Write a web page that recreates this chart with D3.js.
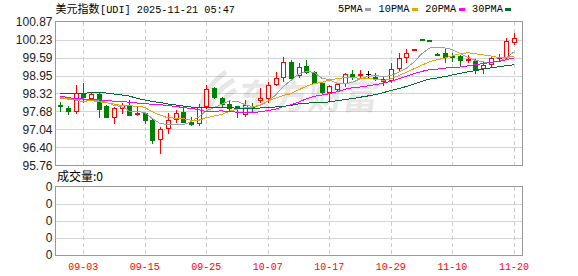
<!DOCTYPE html>
<html>
<head>
<meta charset="utf-8">
<script src="https://cdn.jsdelivr.net/npm/d3@7"></script>
<style>
  body { margin: 0; background: #fff; }
  svg { display: block; }
</style>
</head>
<body>
<svg id="chart"></svg>
<script>
// trading days shown (month-day)
const dates = ['08-29','09-01','09-02','09-03','09-04','09-05','09-08','09-09','09-10','09-11',
  '09-12','09-15','09-16','09-17','09-18','09-19','09-22','09-23','09-24','09-25',
  '09-26','09-29','09-30','10-01','10-02','10-03','10-06','10-07','10-08','10-09',
  '10-10','10-13','10-14','10-15','10-16','10-17','10-20','10-21','10-22','10-23',
  '10-24','10-27','10-28','10-29','10-30','10-31','11-03','11-04','11-05','11-06',
  '11-07','11-10','11-11','11-12','11-13','11-14','11-17','11-18','11-19','11-20'];

const opens = [97.89,97.80,97.70,98.32,98.17,98.30,97.87,97.47,97.81,97.87,
  97.58,97.63,97.37,96.69,97.08,97.41,97.67,97.29,97.26,97.88,
  98.50,98.14,97.93,97.87,97.57,97.88,98.08,98.14,98.64,98.89,
  99.44,98.97,99.29,99.09,98.68,98.38,98.47,98.68,99.01,98.97,
  99.00,98.91,98.82,98.79,99.21,99.60,99.88,100.25,100.22,99.73,
  99.75,99.66,99.66,99.50,99.47,99.21,99.35,99.59,99.62,100.15];
const highs = [98.02,97.87,98.63,98.70,98.38,98.32,97.90,97.85,97.97,98.08,
  97.87,97.67,97.40,97.11,97.61,97.73,97.85,97.49,97.93,98.62,
  98.53,98.20,98.05,97.88,98.08,97.97,98.52,98.71,99.07,99.62,
  99.50,99.39,99.50,99.12,98.73,98.62,98.68,99.03,99.15,99.15,
  99.11,99.03,98.94,99.41,99.76,99.89,99.91,100.26,100.23,99.74,
  99.89,99.74,99.68,99.68,99.55,99.47,99.62,99.71,100.27,100.45];
const lows = [97.70,97.58,97.63,98.02,98.08,97.47,97.47,97.28,97.61,97.55,
  97.55,97.28,96.57,96.21,96.90,97.29,97.31,97.20,97.20,97.79,
  98.17,97.85,97.73,97.49,97.52,97.67,98.02,98.02,98.62,98.76,
  98.82,98.91,99.05,98.68,98.32,98.06,98.44,98.58,98.82,98.85,
  98.89,98.79,98.62,98.73,99.10,99.44,99.87,100.22,100.19,99.70,
  99.44,99.47,99.33,99.44,99.03,99.03,99.27,99.47,99.56,100.06];
const closes = [97.87,97.70,98.32,98.18,98.30,97.75,97.47,97.79,97.90,97.55,
  97.63,97.37,96.66,97.04,97.37,97.63,97.31,97.23,97.85,98.47,
  98.20,97.93,97.81,97.79,97.89,97.79,98.14,98.62,98.85,99.42,
  98.85,99.27,99.09,98.70,98.38,98.58,98.64,99.00,98.95,99.00,
  99.00,98.83,98.77,99.17,99.56,99.74,99.90,100.23,100.20,99.71,
  99.62,99.62,99.50,99.54,99.18,99.33,99.56,99.62,100.18,100.27];

// moving average values at the left edge, before enough closes are on screen
const ma5Lead = [98.19,98.11,98.08,98.03];
const ma10Lead = [98.145,98.127,98.109,98.091,98.067,98.024,97.985,97.942,97.889];
const ma20Lead = [98.226,98.173,98.130,98.120,98.102,98.091,98.067,98.042,98.031,98.006,
  97.978,97.953,97.935,97.918,97.889,97.854,97.818,97.783,97.747];
const ma30Lead = [98.322,98.304,98.297,98.315,98.350,98.350,98.333,98.297,98.262,98.226,
  98.138,98.084,98.031,97.996,97.942,97.907,97.871,97.836,97.825,97.825,
  97.825,97.825,97.825,97.783,97.783,97.783,97.800,97.818,97.836];

const yTicks = [100.87,100.23,99.59,98.95,98.32,97.68,97.04,96.40,95.76];
const yTickLabels = ['100.87','100.23','99.59','98.95','98.32','97.68','97.04','96.40','95.76'];
const xTickDates = ['09-03','09-15','09-25','10-07','10-17','10-29','11-10','11-20'];
const volTickLabels = ['0','0','0','0','0'];
const maNames = ['5PMA','10PMA','20PMA','30PMA'];
const maPeriods = [5,10,20,30];
const maColors = ['#a0a0a0','#f0a000','#ff00ff','#006b33'];

const W = 578, H = 276;
const mainBox = {left: 55, right: 522, top: 21.5, bottom: 165.5};
const volBox = {top: 186.5, bottom: 255};
const mono = '"Liberation Mono", "DejaVu Sans Mono", monospace';
const cjk = '"Noto Sans CJK SC", sans-serif';

const svg = d3.select('#chart').attr('width', W).attr('height', H);

const x = d3.scalePoint().domain(dates).range([60.2, 513.9]);
const y = d3.scaleLinear().domain([95.76, 100.87]).range([mainBox.bottom, mainBox.top]);
const yVol = d3.scaleLinear().domain([0, volTickLabels.length - 1]).range([volBox.bottom, volBox.top]);
const px = v => Math.round(v);

// title + legend
svg.append('text').attr('x', 55.5).attr('y', 13)
  .style('font', '11px ' + cjk).attr('textLength', 44).attr('lengthAdjust', 'spacingAndGlyphs')
  .text('美元指数');
svg.append('text').attr('x', 100).attr('y', 13)
  .style('font', '11px ' + mono).attr('textLength', 135).attr('lengthAdjust', 'spacingAndGlyphs')
  .text('[UDI] 2025-11-21 05:47');

let lx = 338;
maNames.forEach((name, i) => {
  const w = name.length * 6.15;
  svg.append('text').attr('x', lx).attr('y', 12)
    .style('font', '11px ' + mono).attr('textLength', w).attr('lengthAdjust', 'spacingAndGlyphs')
    .text(name);
  svg.append('rect').attr('x', Math.round(lx + w + 2.5)).attr('y', 8)
    .attr('width', 6).attr('height', 3).attr('fill', maColors[i]);
  lx += w + 2.5 + 6 + 7.5;
});

// grid
const grid = svg.append('g').attr('shape-rendering', 'crispEdges');
yTicks.slice(1, -1).forEach(t => {
  grid.append('line').attr('x1', mainBox.left).attr('x2', mainBox.right)
    .attr('y1', px(y(t)) + 0.5).attr('y2', px(y(t)) + 0.5)
    .attr('stroke', '#d4d4d4');
});
d3.range(1, volTickLabels.length - 1).forEach(t => {
  grid.append('line').attr('x1', mainBox.left).attr('x2', mainBox.right)
    .attr('y1', px(yVol(t)) + 0.5).attr('y2', px(yVol(t)) + 0.5)
    .attr('stroke', '#d4d4d4');
});
xTickDates.forEach(d => {
  const xx = px(x(d)) + 0.5;
  [[mainBox.top, mainBox.bottom], [volBox.top, volBox.bottom]].forEach(([a, b]) => {
    grid.append('line').attr('x1', xx).attr('x2', xx).attr('y1', a).attr('y2', b)
      .attr('stroke', '#cccccc').attr('stroke-dasharray', '4,3');
  });
  svg.append('text').attr('x', x(d)).attr('y', 270)
    .attr('text-anchor', 'middle').attr('fill', '#ff0000')
    .style('font', '11px ' + mono).attr('textLength', 30).attr('lengthAdjust', 'spacingAndGlyphs')
    .text(d);
});

// watermark
const wm = svg.append('g').attr('opacity', 0.09);
wm.append('path')
  .attr('d', 'M200,112 Q203,88 226,72 M210,112 Q212,92 234,80 M219,110 Q222,96 236,90')
  .attr('fill', 'none').attr('stroke', '#000').attr('stroke-width', 5);
wm.append('text').attr('x', 238).attr('y', 109)
  .attr('transform', 'skewX(-8) translate(14,0)')
  .style('font', 'bold 35px ' + cjk).attr('fill', '#000').text('东方财富');

// y axis labels
yTicks.forEach((t, i) => {
  svg.append('text').attr('x', 52.5).attr('y', y(t)).attr('dy', '0.35em')
    .attr('text-anchor', 'end').attr('fill', '#222')
    .style('font', '12px "Liberation Sans", Arial, sans-serif')
    .text(yTickLabels[i]);
});
volTickLabels.forEach((lab, i) => {
  svg.append('text').attr('x', 52.5).attr('y', yVol(i)).attr('dy', '0.35em')
    .attr('text-anchor', 'end').attr('fill', '#222')
    .style('font', '12px "Liberation Sans", Arial, sans-serif')
    .text(lab);
});

svg.append('text').attr('x', 57).attr('y', 181)
  .style('font', '12px ' + cjk).attr('fill', '#000').text('成交量:0');

// candles
const candles = dates.map((d, i) => ({date: d, o: opens[i], h: highs[i], l: lows[i], c: closes[i]}));
const colorOf = d => d.c > d.o ? '#ff0000' : (d.c < d.o ? '#008000' : '#000000');

const cg = svg.append('g').attr('shape-rendering', 'crispEdges');
candles.forEach(d => {
  const cx = px(x(d.date));
  const col = colorOf(d);
  const g = cg.append('g');
  g.append('line').attr('x1', cx + 0.5).attr('x2', cx + 0.5)
    .attr('y1', px(y(d.h))).attr('y2', px(y(d.l)) + 1).attr('stroke', col);
  if (d.c > d.o) {
    const top = px(y(d.c)), bot = px(y(d.o));
    g.append('rect').attr('x', cx - 1.5).attr('y', top + 0.5)
      .attr('width', 4).attr('height', Math.max(bot - top, 1))
      .attr('fill', '#fff').attr('stroke', col);
  } else if (d.c < d.o) {
    const top = px(y(d.o)), bot = px(y(d.c));
    g.append('rect').attr('x', cx - 2).attr('y', top)
      .attr('width', 5).attr('height', Math.max(bot - top, 1) + 1).attr('fill', col);
  } else {
    const yy = px(y(d.o)) + 0.5;
    g.append('line').attr('x1', cx - 2).attr('x2', cx + 3).attr('y1', yy).attr('y2', yy).attr('stroke', col);
  }
});

// moving averages
const leads = [ma5Lead, ma10Lead, ma20Lead, ma30Lead];
const movingAvg = (n, lead) => closes.map((c, i) =>
  i < n - 1 ? lead[i] : d3.mean(closes.slice(i - n + 1, i + 1)));
const line = d3.line().x((v, i) => x(dates[i])).y(v => y(v));
maPeriods.forEach((n, k) => {
  svg.append('path').datum(movingAvg(n, leads[k]))
    .attr('d', line).attr('fill', 'none').attr('stroke', maColors[k])
    .attr('stroke-width', 1).attr('shape-rendering', 'crispEdges');
});

// frames
const frames = svg.append('g').attr('shape-rendering', 'crispEdges');
frames.append('rect').attr('x', mainBox.left + 0.5).attr('y', mainBox.top)
  .attr('width', mainBox.right - mainBox.left).attr('height', mainBox.bottom - mainBox.top)
  .attr('fill', 'none').attr('stroke', '#999');
frames.append('rect').attr('x', mainBox.left + 0.5).attr('y', volBox.top)
  .attr('width', mainBox.right - mainBox.left).attr('height', volBox.bottom - volBox.top)
  .attr('fill', 'none').attr('stroke', '#999');
</script>
</body>
</html>
